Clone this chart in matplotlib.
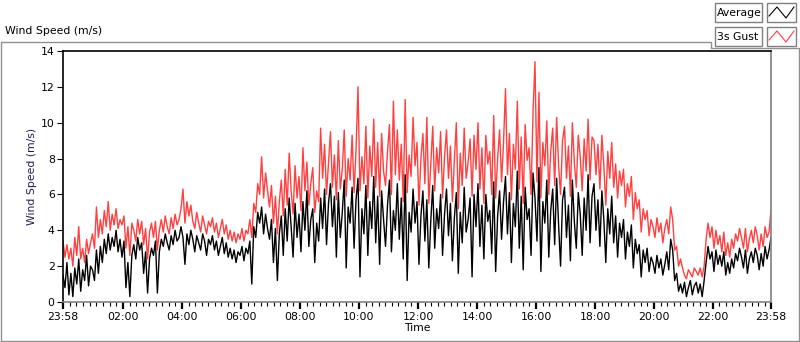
import numpy as np
import matplotlib.pyplot as plt
from matplotlib.lines import Line2D
from matplotlib.patches import Rectangle

# -----------------------------------------------------------------
# data: one reading every 4 minutes, starting 23:58, one row per hour
# -----------------------------------------------------------------
average = [
    1.5, 0.8, 2.2, 0.4, 1.6, 0.3, 1.9, 1.0, 2.4, 0.6, 1.8, 1.2, 2.6, 0.9, 2.0,
    1.8, 1.2, 2.9, 1.6, 3.1, 2.2, 3.5, 2.7, 3.8, 2.9, 3.6, 3.1, 4.0, 2.8, 3.5,
    2.5, 3.4, 0.8, 2.2, 0.3, 2.6, 3.2, 2.4, 3.6, 2.9, 3.3, 1.6, 2.8, 0.5, 2.4,
    3.0, 2.6, 3.4, 0.5, 2.8, 3.5, 3.1, 3.8, 3.3, 2.9, 3.7, 3.2, 4.0, 3.4, 3.6,
    4.2, 3.6, 2.1, 3.8, 3.2, 4.0, 3.5, 2.8, 3.7, 3.3, 2.9, 3.8, 3.4, 2.6, 3.5,
    3.2, 3.7, 2.9, 3.4, 2.6, 3.1, 3.6, 2.7, 3.3, 2.5, 3.0, 2.4, 2.9, 2.2, 2.8,
    2.6, 3.1, 2.3, 3.0, 2.7, 3.4, 1.0, 4.2, 3.6, 5.0, 4.4, 5.3, 3.8, 4.9, 4.1,
    3.5, 4.6, 2.2, 4.1, 1.2, 3.8, 4.8, 2.6, 5.2, 3.4, 5.8, 4.2, 2.5, 5.5, 3.6,
    4.9, 2.8, 5.6, 4.0, 6.2, 3.1, 4.6, 5.2, 2.2, 4.4, 3.4, 5.8, 4.1, 6.3, 3.2,
    5.5, 6.6, 4.2, 5.9, 2.5, 6.1, 3.6, 5.0, 6.8, 1.9, 5.3, 4.4, 6.4, 3.0, 5.7,
    6.9, 1.4, 5.2, 3.8, 6.5, 2.6, 5.6, 4.1, 7.0, 3.3, 5.9, 2.1, 6.2, 4.6, 3.1,
    5.4, 6.8, 2.8, 5.1, 4.0, 6.6, 3.5, 5.8, 2.4, 7.1, 1.2, 5.0, 3.9, 6.3, 4.4,
    5.6, 2.1, 4.8, 6.2, 3.4, 5.7, 1.9, 4.5, 6.5, 3.0, 5.2, 4.1, 6.0, 2.6, 4.9,
    6.3, 3.7, 5.5, 2.3, 4.7, 6.1, 1.6, 5.0, 3.3, 6.4, 3.9, 4.6, 5.8, 1.4, 6.0,
    4.2, 6.6, 3.1, 5.4, 2.4, 6.0, 4.5, 5.1, 2.7, 6.7, 1.7, 4.8, 6.2, 3.5, 5.6,
    7.0, 3.8, 6.1, 2.2, 5.5, 4.2, 7.3, 3.0, 5.9, 1.8, 6.4, 4.6, 5.2, 2.6, 7.2,
    5.8, 3.4, 7.5, 1.7, 5.6, 4.4, 6.8, 2.5, 5.1, 6.3, 3.2, 6.9, 4.3, 2.0, 5.7,
    6.4, 3.6, 5.4, 2.3, 6.8, 4.5, 3.0, 6.1, 4.9, 2.6, 5.8, 4.0, 7.1, 3.3, 5.9,
    6.6, 4.0, 5.7, 3.1, 6.2, 4.6, 2.2, 5.2, 3.8, 5.9, 3.3, 4.8, 2.5, 4.4, 3.6,
    4.6, 2.4, 3.9, 3.1, 4.3, 1.9, 3.5, 2.7, 3.2, 1.4, 2.9, 2.2, 3.0, 1.7, 2.5,
    2.2, 1.6, 2.6, 1.9, 2.4, 1.5, 2.1, 2.8, 1.8, 3.5, 2.9, 1.2, 1.6, 0.6, 1.0,
    0.5, 1.1, 0.3, 0.8, 1.2, 0.4, 0.9, 1.1, 0.5, 1.0, 0.3, 1.2, 2.2, 3.1, 2.4,
    2.8, 1.7, 2.9, 2.1, 2.6, 2.0, 2.8, 1.5, 2.2, 1.6, 2.4, 1.9, 2.7, 2.3, 3.0,
    2.5, 1.9, 2.9, 1.6, 2.4, 2.8, 2.2, 3.0, 2.6, 1.8, 2.7, 2.0, 3.1, 2.4, 2.9,
    3.6,
]

gust = [
    3.4, 2.5, 3.2, 2.4, 3.0, 2.0, 3.6, 2.6, 4.2, 2.4, 3.0, 2.2, 3.5, 2.7, 3.3,
    3.8, 3.0, 5.3, 3.6, 4.6, 3.8, 5.1, 4.2, 5.6, 4.0, 4.9, 4.3, 5.2, 4.1, 4.6,
    4.3, 4.8, 3.0, 4.2, 2.6, 4.4, 4.0, 3.4, 4.6, 3.8, 4.5, 3.2, 4.1, 2.4, 3.9,
    4.4, 3.6, 4.5, 2.9, 4.0, 4.6, 3.9, 4.8, 4.2, 3.8, 4.7, 4.1, 4.9, 4.3, 4.6,
    5.2, 6.3, 4.4, 5.6, 4.8, 5.4, 4.5, 4.1, 5.0, 4.4, 3.9, 4.8, 4.3, 3.8, 4.5,
    4.2, 4.7, 3.9, 4.4, 3.6, 4.1, 4.6, 3.8, 4.3, 3.5, 4.0, 3.4, 3.9, 3.3, 3.8,
    3.5, 4.1, 3.4, 4.0, 3.8, 4.6, 3.6, 5.5, 5.0, 6.6, 6.0, 8.1, 5.8, 7.2, 6.2,
    5.3, 6.5, 4.4, 5.9, 3.8, 5.6, 6.8, 4.8, 7.4, 5.4, 8.3, 6.2, 4.9, 7.6, 5.8,
    7.0, 5.1, 8.6, 6.2, 7.8, 5.4, 6.6, 7.5, 5.0, 6.2, 5.6, 9.7, 6.9, 8.8, 6.0,
    7.8, 9.5, 6.4, 8.2, 5.7, 9.0, 6.3, 7.4, 9.6, 5.9, 8.0, 6.8, 9.3, 6.1, 8.5,
    12.0, 6.2, 8.1, 6.6, 9.8, 5.8, 8.7, 7.0, 10.2, 6.4, 8.9, 5.9, 9.4, 7.3, 6.5,
    8.4, 9.9, 6.0, 11.2, 7.1, 9.6, 6.8, 8.8, 5.6, 11.3, 6.1, 8.2, 7.0, 10.3, 7.6,
    8.9, 5.4, 8.0, 9.4, 6.6, 10.3, 5.5, 7.7, 9.8, 6.2, 8.6, 7.2, 9.5, 5.8, 8.1,
    9.6, 6.9, 8.7, 5.6, 7.9, 10.0, 5.2, 8.3, 6.5, 9.7, 6.9, 7.8, 9.1, 5.9, 9.3,
    7.4, 10.0, 6.3, 8.6, 5.5, 9.3, 7.7, 8.4, 6.0, 10.4, 5.8, 8.0, 9.6, 6.7, 8.9,
    11.9, 7.1, 9.4, 5.7, 8.8, 7.4, 11.2, 6.3, 9.2, 5.5, 9.9, 7.9, 8.6, 6.0, 10.6,
    13.4, 6.7, 11.7, 5.8, 8.9, 7.6, 10.1, 6.0, 8.4, 9.7, 6.5, 10.3, 7.6, 6.0, 9.0,
    9.8, 6.9, 8.7, 5.9, 10.0, 7.8, 6.4, 9.3, 8.1, 6.2, 9.1, 7.3, 10.2, 6.8, 9.2,
    9.0, 7.1, 8.8, 6.3, 9.3, 7.6, 5.4, 8.4, 6.9, 8.9, 6.4, 7.7, 5.8, 7.3, 6.5,
    7.4, 5.3, 6.6, 5.9, 7.0, 4.6, 6.1, 5.2, 5.7, 3.9, 5.2, 4.6, 5.1, 3.7, 4.6,
    4.2, 3.6, 4.7, 3.9, 4.4, 3.3, 4.1, 4.6, 3.8, 5.3, 4.6, 2.9, 3.1, 2.0, 2.4,
    1.9, 1.5, 1.3, 1.8, 1.6, 1.4, 1.9, 1.7, 1.5, 1.9, 1.4, 2.0, 3.5, 4.4, 3.6,
    4.2, 3.0, 4.0, 3.2, 3.7, 2.8, 3.9, 2.6, 3.3, 2.5, 3.5, 3.0, 3.8, 3.4, 4.1,
    3.6, 3.0, 4.1, 2.8, 3.5, 4.0, 3.3, 4.2, 3.7, 2.9, 3.8, 3.1, 4.2, 3.6, 3.9,
    5.1,
]

# minutes since 23:58
minutes = np.arange(len(average)) * 4

tick_minutes = [0, 122, 242, 362, 482, 602, 722, 842, 962, 1082, 1202, 1322, 1440]
tick_labels = ["23:58", "02:00", "04:00", "06:00", "08:00", "10:00", "12:00",
               "14:00", "16:00", "18:00", "20:00", "22:00", "23:58"]

# -----------------------------------------------------------------
# figure
# -----------------------------------------------------------------
plt.rcParams['font.family'] = ['DejaVu Sans']
FS = 7.8
fig = plt.figure(figsize=(8, 3.42), dpi=100)
ax = fig.add_axes([63 / 800, 1 - 302 / 342, 708 / 800, 251 / 342])

ax.plot(minutes, gust, color="#FF4040", linewidth=1.0)
ax.plot(minutes, average, color="black", linewidth=1.0)

ax.set_xlim(0, 1440)
ax.set_ylim(0, 14)
ax.set_yticks(range(0, 15, 2))
ax.set_xticks(tick_minutes)
ax.set_xticklabels(tick_labels)

# 8 minor ticks between each pair of labelled ticks
minor = []
for a, b in zip(tick_minutes[:-1], tick_minutes[1:]):
    minor += list(np.linspace(a, b, 10)[1:-1])
ax.set_xticks(minor, minor=True)

ax.tick_params(axis="both", labelsize=FS, colors="black", width=0.8)
ax.tick_params(axis="y", length=4, pad=2)
ax.tick_params(axis="x", which="major", length=5, width=1.6, pad=2)
ax.tick_params(axis="x", which="minor", length=3, width=0.8)

for side in ["left", "top"]:
    ax.spines[side].set_color("black")
for side in ["right", "bottom"]:
    ax.spines[side].set_color("#808080")
for s in ax.spines.values():
    s.set_linewidth(1.2)

ax.set_ylabel("Wind Speed (m/s)", fontsize=FS, color="#202050", labelpad=3)
ax.set_xlabel("Time", fontsize=FS, labelpad=1)

# outer panel frame and title
W, H = 800, 342
def fx(px):
    return px / W
def fy(py):
    return 1 - py / H

fig.text(fx(5), fy(31), "Wind Speed (m/s)", fontsize=FS, va="center", ha="left")
frame = Line2D([fx(1), fx(1), fx(711), fx(711), fx(799), fx(799), fx(1)],
               [fy(341), fy(42), fy(42), fy(48), fy(48), fy(341), fy(341)],
               transform=fig.transFigure, color="#909090", linewidth=1.0)
fig.add_artist(frame)

# legend boxes
for i, (name, col) in enumerate([("Average", "black"), ("3s Gust", "#FF4040")]):
    top = 3 + i * 24
    fig.add_artist(Rectangle((fx(715), fy(top + 19)), 47 / W, 19 / H,
                             transform=fig.transFigure, facecolor="white",
                             edgecolor="#808080", linewidth=1.0))
    fig.text(fx(717), fy(top + 10), name, fontsize=FS, va="center", ha="left")
    fig.add_artist(Rectangle((fx(767), fy(top + 19)), 29 / W, 19 / H,
                             transform=fig.transFigure, facecolor="white",
                             edgecolor="#808080", linewidth=1.0))
    zx = [769, 777, 786, 794]
    zy = [top + 13, top + 4, top + 15, top + 4]
    fig.add_artist(Line2D([fx(v) for v in zx], [fy(v) for v in zy],
                          transform=fig.transFigure, color=col, linewidth=0.8))

fig.savefig("out.png", dpi=100)
